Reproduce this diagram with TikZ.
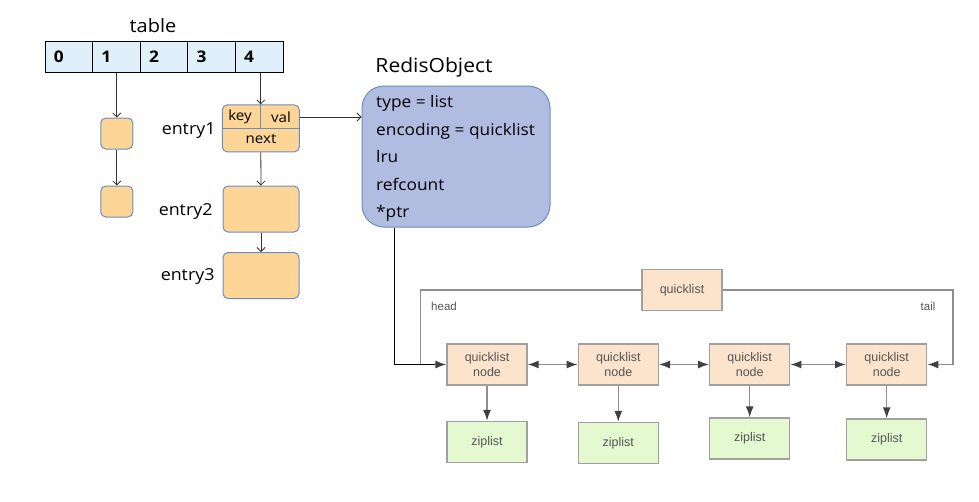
\documentclass[tikz,border=0pt]{standalone}
\usepackage{fontspec}
\setmainfont{Open Sans}[FakeStretch=1.08]
\newfontfamily\qfont{Liberation Sans}
\usetikzlibrary{arrows.meta}
\definecolor{tblue}{HTML}{DFF0FA}
\definecolor{eorange}{HTML}{FDD597}
\definecolor{eborder}{HTML}{6C8EBF}
\definecolor{rofill}{HTML}{B0BCE0}
\definecolor{qnfill}{HTML}{FCE3CC}
\definecolor{zfill}{HTML}{E4F9D0}
\definecolor{qborder}{HTML}{A0A0A0}
\definecolor{qline}{HTML}{8E8E8E}
\definecolor{qtip}{HTML}{404040}
\definecolor{qtext}{HTML}{555555}
\tikzset{
  tcell/.style={draw=black, fill=tblue, line width=0.9pt, minimum width=47.6pt, minimum height=31pt,
    inner sep=0pt, text width=30pt, align=left, font=\bfseries\fontsize{16}{16}\selectfont},
  ebox/.style={draw=eborder, fill=eorange, line width=1pt, rounded corners=5pt, inner sep=0pt},
  elabel/.style={anchor=east, font=\fontsize{16.5}{16.5}\selectfont},
  ftext/.style={font=\fontsize{14}{14}\selectfont, inner sep=0pt},
  rotext/.style={anchor=base west, inner sep=0pt, font=\fontsize{16}{16}\selectfont},
  thinarr/.style={draw=black!80, line width=0.8pt, -{Straight Barb[length=4pt,width=8pt]}},
  qbox/.style={draw=qborder, line width=1.4pt, minimum width=80pt, minimum height=41pt, inner sep=0pt,
    align=center, text=qtext, font=\qfont\fontsize{12.5}{14.5}\selectfont},
  qnode/.style={qbox, fill=qnfill},
  zbox/.style={qbox, fill=zfill},
  qarr/.style={draw=qline, line width=1.4pt, -{Latex[length=11pt,width=8pt,color=qtip]}},
  qbarr/.style={draw=qline, line width=1.4pt, {Latex[length=11pt,width=8pt,color=qtip]}-{Latex[length=11pt,width=8pt,color=qtip]}},
  qlbl/.style={text=qtext, font=\qfont\fontsize{11.5}{11.5}\selectfont, inner sep=0pt},
}
\begin{document}
\begin{tikzpicture}[x=1pt,y=-1pt]
\useasboundingbox[fill=white] (0,0) rectangle (979,501);
% table
\node[font=\fontsize{18.5}{18.5}\selectfont] (tlabel) at (153,26) {table};
\node[tcell] (c0) at (68.8,57) {0};
\node[tcell] (c1) at (116.4,57) {1};
\node[tcell] (c2) at (164.0,57) {2};
\node[tcell] (c3) at (211.6,57) {3};
\node[tcell] (c4) at (259.2,57) {4};
% bucket 1 chain
\node[ebox, minimum width=32pt, minimum height=31pt] (b1) at (116.8,133.5) {};
\node[ebox, minimum width=32pt, minimum height=31pt] (b2) at (116.8,201.5) {};
\draw[thinarr] (c1.south -| b1.north) -- (b1.north);
\draw[thinarr] (b1.south) -- (b2.north);
% bucket 4 chain
\node[ebox, minimum width=77pt, minimum height=47pt] (e1) at (260.8,128.4) {};
\draw[eborder, line width=1pt] (e1.west) -- (e1.east);
\draw[eborder, line width=1pt] (e1.north) -- (e1.center);
\node[ftext] (key) at (240,117) {key};
\node[ftext] (val) at (281,117) {val};
\node[ftext] (next) at (261,139) {next};
\node[ebox, minimum width=76pt, minimum height=46pt] (e2) at (261,209) {};
\node[ebox, minimum width=76pt, minimum height=46pt] (e3) at (261,275.5) {};
\draw[thinarr] (c4.south -| e1.north) -- (e1.north);
\draw[thinarr] (e1.south) -- (e2.north);
\draw[thinarr] (e2.south) -- (e3.north);
\node[elabel] (l1) at (219,131) {entry1};
\node[elabel] (l2) at (216,212) {entry2};
\node[elabel] (l3) at (218,277) {entry3};
% RedisObject
\node[font=\fontsize{19.5}{19.5}\selectfont] (rotitle) at (434,67) {RedisObject};
\node[draw=eborder, fill=rofill, line width=1pt, rounded corners=22pt, minimum width=188pt, minimum height=141pt] (ro) at (456,156.5) {};
\node[rotext] (t1) at (376,107.5) {type = list};
\node[rotext] (t2) at (376,135) {encoding = quicklist};
\node[rotext] (t3) at (376,162.5) {lru};
\node[rotext] (t4) at (376,190) {refcount};
\node[rotext] (t5) at (376,217.5) {*ptr};
\draw[thinarr] (val.east -| e1.east) -- (val.east -| ro.west);
% quicklist
\node[qnode] (ql) at (682,290) {quicklist};
\node[qnode] (n1) at (487,364.5) {quicklist\\node};
\node[qnode] (n2) at (618.3,364.5) {quicklist\\node};
\node[qnode] (n3) at (749.7,364.5) {quicklist\\node};
\node[qnode] (n4) at (886.7,364.5) {quicklist\\node};
\node[zbox] (z1) at (487,442) {ziplist};
\node[zbox] (z2) at (618.3,443) {ziplist};
\node[zbox] (z3) at (749.7,438.5) {ziplist};
\node[zbox] (z4) at (886.7,439.5) {ziplist};
\coordinate (hx) at (420.5,0);
\coordinate (tx) at (953,0);
\draw[qarr] (ql.west) -| (hx |- n1.west) -- (n1.west);
\draw[qarr] (ql.east) -| (tx |- n4.east) -- (n4.east);
\node[qlbl] (head) at (444,306) {head};
\node[qlbl] (tail) at (928,306) {tail};
\draw[qbarr] (n1.east) -- (n2.west);
\draw[qbarr] (n2.east) -- (n3.west);
\draw[qbarr] (n3.east) -- (n4.west);
\draw[qarr] (n1.south) -- (z1.north);
\draw[qarr] (n2.south) -- (z2.north);
\draw[qarr] (n3.south) -- (z3.north);
\draw[qarr] (n4.south) -- (z4.north);
% ptr link
\coordinate (px) at (394,0);
\draw[black, line width=1pt, shorten >=11pt] (ro.south -| px) |- (n1.west);
\end{tikzpicture}
\end{document}
